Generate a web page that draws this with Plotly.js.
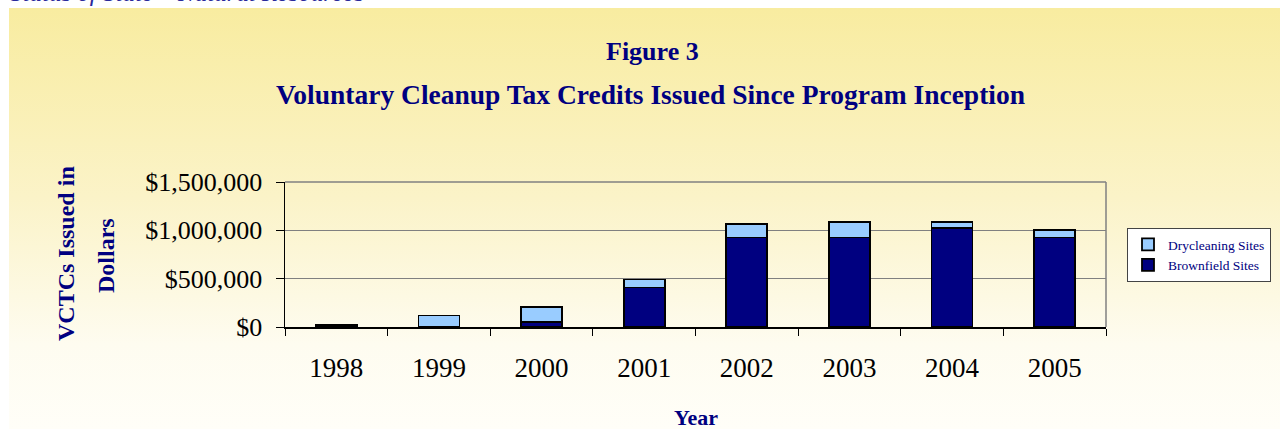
<!DOCTYPE html>
<html>
<head>
<meta charset="utf-8">
<script src="https://cdn.plot.ly/plotly-3.0.1.min.js"></script>
<style>
html,body{margin:0;padding:0;background:#ffffff;width:1280px;height:429px;overflow:hidden;}
#bg{position:absolute;left:9px;top:8px;width:1271px;height:421px;background:linear-gradient(to bottom,#F8ECA0 0%,#FBF3C8 45%,#FEFCF0 80%,#FFFEF8 100%);}
#chart{position:absolute;left:0;top:0;width:1280px;height:429px;}
</style>
</head>
<body>
<div id="bg"></div>
<div id="chart"></div>
<script>
const years = ['1998','1999','2000','2001','2002','2003','2004','2005'];
const brownfield = [20000, 0, 55000, 409000, 925000, 925000, 1025000, 925000];
const drycleaning = [0, 120000, 150000, 82000, 144000, 162000, 62000, 79000];
const yTicks = [0, 500000, 1000000, 1500000];
const yTickText = yTicks.map(v => '$' + v.toLocaleString('en-US'));

const navy = '#000080';
const serif = 'Liberation Serif, Times New Roman, serif';

const traces = [
  {type:'bar', name:'Brownfield Sites', x:years, y:brownfield, legendrank:2,
   marker:{color:navy, line:{color:'#000000', width:1.8}}},
  {type:'bar', name:'Drycleaning Sites', x:years, y:drycleaning, legendrank:1,
   marker:{color:'#99CCFF', line:{color:'#000000', width:1.8}}}
];

const px = (p) => (p - 285) / 821;     // pixel x -> paper x
const py = (p) => (327 - p) / 145;     // pixel y -> paper y

const layout = {
  width:1280, height:429,
  margin:{l:285, r:174, t:182, b:102, pad:0, autoexpand:false},
  paper_bgcolor:'rgba(0,0,0,0)',
  plot_bgcolor:'rgba(0,0,0,0)',
  barmode:'stack',
  bargap:0.6,
  showlegend:true,
  legend:{x:px(1127), y:py(228), xanchor:'left', yanchor:'top',
    bgcolor:'#ffffff', bordercolor:'#444444', borderwidth:1,
    traceorder:'normal',
    font:{family:serif, size:13.5, color:navy}, itemwidth:30},
  xaxis:{type:'category', tickson:'boundaries', ticks:'outside', ticklen:7, tickcolor:'#000',
    showline:true, linecolor:'#000', linewidth:1.5, showgrid:false, automargin:false,
    tickfont:{family:serif, size:27, color:'#000'}, ticklabelstandoff:16, fixedrange:true},
  yaxis:{range:[0,1500000], tickvals:yTicks, ticktext:yTickText, automargin:false,
    ticks:'outside', ticklen:8, tickcolor:'#000', showline:true, linecolor:'#000', linewidth:1.5,
    gridcolor:'#808080', gridwidth:1, zeroline:false,
    tickfont:{family:serif, size:26, color:'#000'}, ticklabelstandoff:8, fixedrange:true},
  shapes:[
    {type:'line', xref:'paper', yref:'paper', x0:0, x1:1, y0:1, y1:1, line:{color:'#808080', width:1.5}},
    {type:'line', xref:'paper', yref:'paper', x0:1, x1:1, y0:0, y1:1, line:{color:'#808080', width:1.5}}
  ],
  annotations:[
    {text:'<i>Status of State – Natural Resources</i>', xref:'paper', yref:'paper', x:px(8), y:py(-8),
     xanchor:'left', yanchor:'middle', showarrow:false, font:{family:serif, size:25, color:'#2a2a9a'}},
    {text:'<b>Figure 3</b>', xref:'paper', yref:'paper', x:px(652), y:py(51),
     xanchor:'center', yanchor:'middle', showarrow:false, font:{family:serif, size:26, color:navy}},
    {text:'<b>Voluntary Cleanup Tax Credits Issued Since Program Inception</b>', xref:'paper', yref:'paper', x:px(650), y:py(95),
     xanchor:'center', yanchor:'middle', showarrow:false, font:{family:serif, size:27.5, color:navy}},
    {text:'<b>VCTCs Issued in</b>', xref:'paper', yref:'paper', x:px(66), y:py(254), textangle:-90,
     xanchor:'center', yanchor:'middle', showarrow:false, font:{family:serif, size:24, color:navy}},
    {text:'<b>Dollars</b>', xref:'paper', yref:'paper', x:px(106), y:py(256), textangle:-90,
     xanchor:'center', yanchor:'middle', showarrow:false, font:{family:serif, size:24, color:navy}},
    {text:'<b>Year</b>', xref:'paper', yref:'paper', x:px(696), y:py(417),
     xanchor:'center', yanchor:'middle', showarrow:false, font:{family:serif, size:22, color:navy}}
  ]
};

Plotly.newPlot('chart', traces, layout, {displayModeBar:false, staticPlot:true});
</script>
</body>
</html>
